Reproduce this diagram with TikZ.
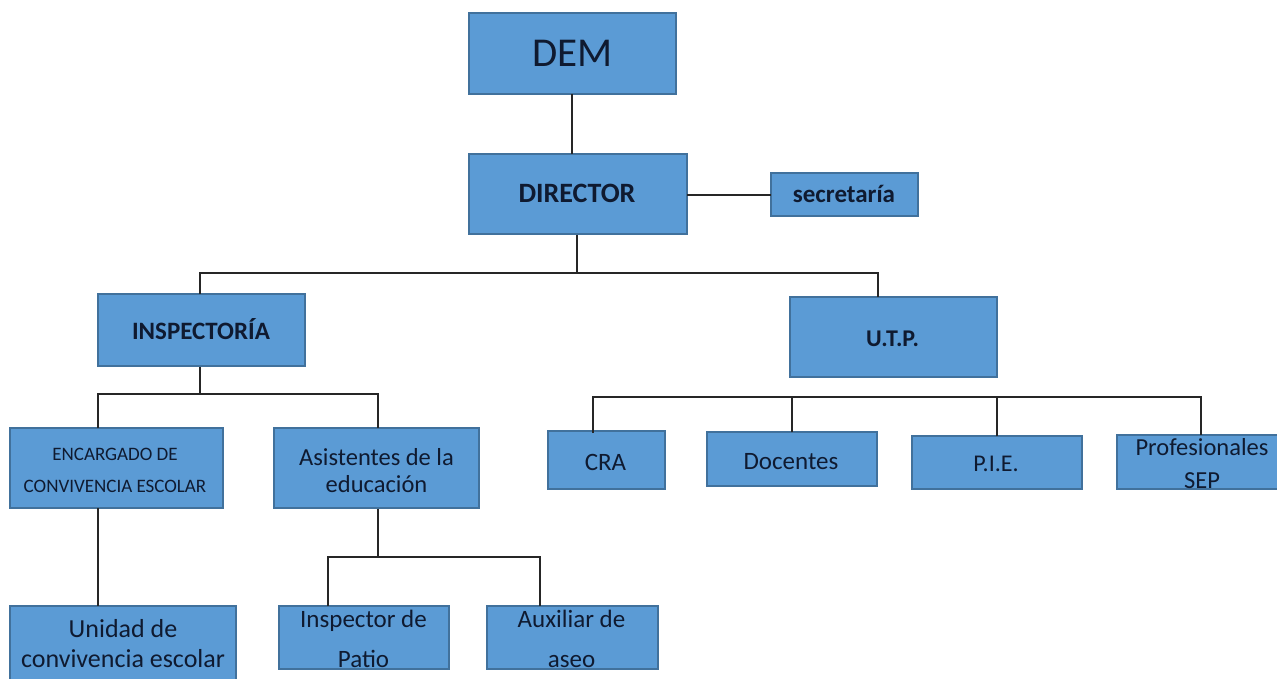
\documentclass[tikz,border=0pt]{standalone}
\usepackage{fontspec}
\setmainfont{Carlito}
\definecolor{boxblue}{HTML}{5B9BD5}
\definecolor{boxedge}{HTML}{41719C}
\definecolor{txtcol}{HTML}{0F1A30}
\definecolor{linecol}{HTML}{262626}
\tikzset{
  bx/.style={draw=boxedge, fill=boxblue, line width=1.3pt, inner sep=0pt},
  lbl/.style={text=txtcol, inner sep=0pt, anchor=base},
  conn/.style={draw=linecol, line width=1.5pt},
}
% one- or two-line label: size, baseline skip, text
\newcommand{\tl}[3]{\fontsize{#1}{#2}\selectfont\begin{tabular}[t]{@{}c@{}}#3\end{tabular}}
\begin{document}
\begin{tikzpicture}[x=1pt,y=-1pt]
\useasboundingbox[fill=white] (0,0) rectangle (1277,679);
\begin{scope}
\clip (0,0) rectangle (1277,679);
% boxes
\node[bx, minimum width=207, minimum height=81] (dem) at (572.5,53.5) {};
\node[bx, minimum width=218, minimum height=80] (dir) at (578,194) {};
\node[bx, minimum width=147, minimum height=43] (sec) at (844.5,194.5) {};
\node[bx, minimum width=207, minimum height=72] (insp) at (201.5,330) {};
\node[bx, minimum width=207, minimum height=80] (utp) at (893.5,337) {};
\node[bx, minimum width=213, minimum height=80] (enc) at (116.5,468) {};
\node[bx, minimum width=205, minimum height=80] (asis) at (376.5,468) {};
\node[bx, minimum width=117, minimum height=58] (cra) at (606.5,460) {};
\node[bx, minimum width=170, minimum height=54] (doc) at (792,459) {};
\node[bx, minimum width=170, minimum height=53] (pie) at (997,462.5) {};
\node[bx, minimum width=173, minimum height=54] (prof) at (1203.5,462) {};
\node[bx, minimum width=226, minimum height=90] (uni) at (123,651) {};
\node[bx, minimum width=170, minimum height=63] (ipat) at (364,637.5) {};
\node[bx, minimum width=171, minimum height=63] (aux) at (572.5,637.5) {};
% labels (placed at first baseline)
\node[lbl] (tdem) at (572.5,66.5) {\tl{41}{41}{DEM}};
\node[lbl] (tdir) at (577,203) {\tl{28}{28}{\bfseries DIRECTOR}};
\node[lbl] (tsec) at (844,202.3) {\tl{25}{25}{\bfseries secretaría}};
\node[lbl] (tinsp) at (201,339) {\tl{25}{25}{\bfseries INSPECTORÍA}};
\node[lbl] (tutp) at (892.5,346) {\tl{24}{24}{\bfseries U.T.P.}};
\node[lbl] (tenc) at (115,460) {\tl{19}{32}{ENCARGADO DE\\CONVIVENCIA ESCOLAR}};
\node[lbl] (tasis) at (376.5,465) {\tl{24.5}{27}{Asistentes de la\\educación}};
\node[lbl] (tcra) at (605.5,470) {\tl{25}{25}{CRA}};
\node[lbl] (tdoc) at (791,469) {\tl{25}{25}{Docentes}};
\node[lbl] (tpie) at (996,471) {\tl{24}{24}{P.I.E.}};
\node[lbl] (tprof) at (1202,455) {\tl{24.5}{33}{Profesionales\\SEP}};
\node[lbl] (tuni) at (123,637) {\tl{26}{30}{Unidad de\\convivencia escolar}};
\node[lbl] (tipat) at (363.5,627) {\tl{25}{40}{Inspector de\\Patio}};
\node[lbl] (taux) at (571.5,627) {\tl{25}{40}{Auxiliar de\\aseo}};
% junction coordinates
\coordinate (j1) at (577,273);
\coordinate (j2) at (200,394);
\coordinate (j3) at (378,557);
\coordinate (b1) at (593,397);
\coordinate (b2) at (1201,397);
% connectors
\draw[conn] (572,94) -- (572,154);
\draw[conn] (687,195) -- (771,195);
\draw[conn] (j1 |- dir.south) -- (j1);
\draw[conn] (200,294) -- (200,273) -- (878,273) -- (878,297);
\draw[conn] (j2 |- insp.south) -- (j2);
\draw[conn] (98,428) -- (98,394) -- (378,394) -- (378,428);
\draw[conn] (98,508) -- (98,606);
\draw[conn] (j3 |- asis.south) -- (j3);
\draw[conn] (328,606) -- (328,557) -- (540,557) -- (540,606);
\draw[conn] (593,433) -- (b1) -- (b2) -- (1201,435);
\draw[conn] (792,432) -- (792,397);
\draw[conn] (997,436) -- (997,397);
\end{scope}
\end{tikzpicture}
\end{document}
